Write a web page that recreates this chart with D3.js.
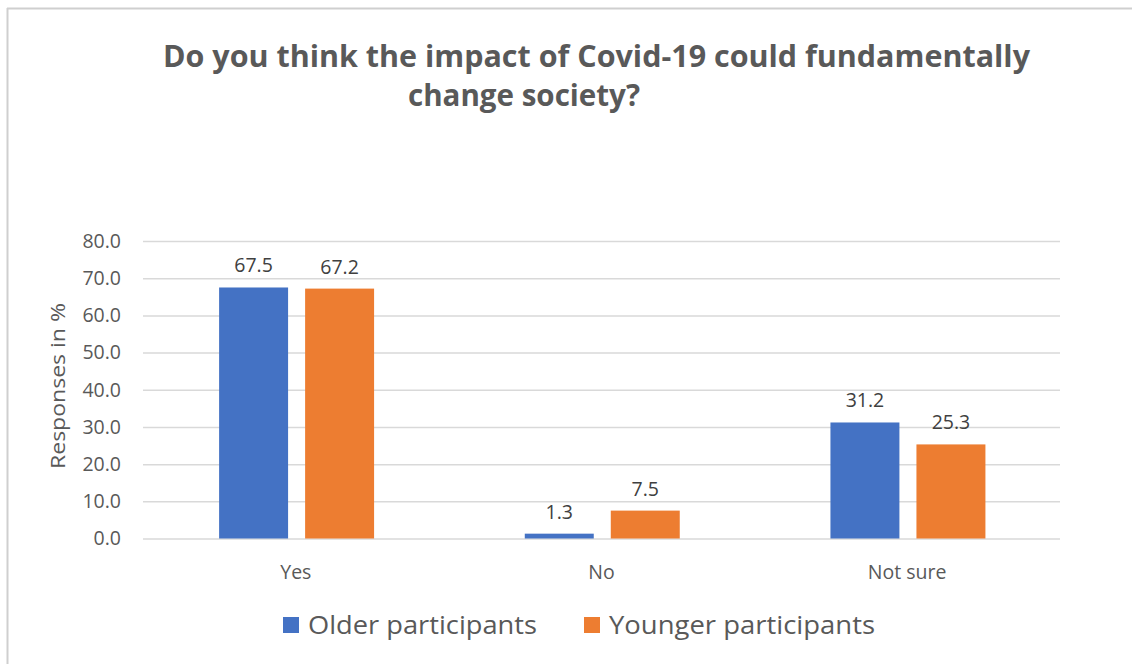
<!DOCTYPE html>
<html>
<head>
<meta charset="utf-8">
<script src="https://cdn.jsdelivr.net/npm/d3@7"></script>
<style>
  html, body { margin: 0; padding: 0; background: #fff; }
  svg { display: block; }
  text { font-family: "Open Sans", "Liberation Sans", sans-serif; }
</style>
</head>
<body>
<svg id="chart" width="1132" height="664"></svg>
<script>
const titleLines = ["Do you think the impact of Covid-19 could fundamentally", "change society?"];
const categories = ["Yes", "No", "Not sure"];
const seriesNames = ["Older participants", "Younger participants"];
const olderValues = [67.5, 1.3, 31.2];
const youngerValues = [67.2, 7.5, 25.3];
const yTicks = [0, 10, 20, 30, 40, 50, 60, 70, 80];
const yAxisTitle = "Responses in %";
const colors = ["#4472C4", "#ED7D31"];

const series = [olderValues, youngerValues];
const svg = d3.select("#chart");

// chart border (top & left visible)
svg.append("line").attr("x1", 7).attr("x2", 1132).attr("y1", 8.5).attr("y2", 8.5)
  .attr("stroke", "#cfcfcf").attr("stroke-width", 2);
svg.append("line").attr("x1", 7.5).attr("x2", 7.5).attr("y1", 8).attr("y2", 664)
  .attr("stroke", "#cfcfcf").attr("stroke-width", 2);

// title
const titleSpecs = [{x: 163, y: 67, w: 867}, {x: 408, y: 106, w: 232}];
titleLines.forEach((t, i) => {
  svg.append("text").attr("x", titleSpecs[i].x).attr("y", titleSpecs[i].y)
    .attr("font-size", 31).attr("font-weight", 700).attr("fill", "#595959")
    .attr("textLength", titleSpecs[i].w).attr("lengthAdjust", "spacingAndGlyphs")
    .text(t);
});

const plot = {left: 143, right: 1060, top: 241, bottom: 538.5};
const y = d3.scaleLinear().domain([0, 80]).range([plot.bottom, plot.top]);
const x0 = d3.scaleBand().domain(categories).range([plot.left, plot.right]).padding(0);
const x1 = d3.scaleBand().domain(seriesNames)
  .range([x0.bandwidth() * 0.249, x0.bandwidth() * 0.756]).paddingInner(0.198).paddingOuter(0);

// gridlines
const yAxis = d3.axisLeft(y).tickValues(yTicks).tickSize(-(plot.right - plot.left))
  .tickFormat(d3.format(".1f")).tickPadding(22);
const gy = svg.append("g").attr("transform", `translate(${plot.left},0)`).call(yAxis);
gy.select(".domain").remove();
gy.selectAll(".tick line").attr("stroke", "#d9d9d9").attr("stroke-width", 1.5);
gy.selectAll(".tick text").attr("font-size", 19.5).attr("fill", "#595959")
  .attr("font-family", "'Open Sans', sans-serif");

// y axis title
svg.append("text").attr("transform", "translate(65,386) rotate(-90)")
  .attr("text-anchor", "middle").attr("font-size", 20.5).attr("fill", "#595959")
  .attr("textLength", 166).attr("lengthAdjust", "spacingAndGlyphs")
  .text(yAxisTitle);

// bars
const groups = svg.append("g").selectAll("g").data(categories).join("g")
  .attr("transform", d => `translate(${x0(d)},0)`);
seriesNames.forEach((name, si) => {
  groups.append("rect")
    .attr("x", x1(name))
    .attr("width", x1.bandwidth())
    .attr("y", (d, ci) => y(series[si][ci]))
    .attr("height", (d, ci) => y(0) - y(series[si][ci]))
    .attr("fill", colors[si]);
  groups.append("text")
    .attr("x", x1(name) + x1.bandwidth() / 2)
    .attr("y", (d, ci) => y(series[si][ci]) - 15)
    .attr("text-anchor", "middle").attr("font-size", 19.5).attr("fill", "#404040")
    .text((d, ci) => series[si][ci].toFixed(1));
});

// category labels
svg.append("g").selectAll("text").data(categories).join("text")
  .attr("x", d => x0(d) + x0.bandwidth() / 2).attr("y", 579)
  .attr("text-anchor", "middle").attr("font-size", 19.5).attr("fill", "#595959")
  .text(d => d);

// legend
const legendSpecs = [{sx: 283, tx: 308, w: 229}, {sx: 584, tx: 609, w: 266}];
seriesNames.forEach((name, i) => {
  svg.append("rect").attr("x", legendSpecs[i].sx).attr("y", 617).attr("width", 16).attr("height", 16)
    .attr("fill", colors[i]);
  svg.append("text").attr("x", legendSpecs[i].tx).attr("y", 634)
    .attr("font-size", 26).attr("fill", "#595959")
    .attr("textLength", legendSpecs[i].w).attr("lengthAdjust", "spacingAndGlyphs")
    .text(name);
});
</script>
</body>
</html>
